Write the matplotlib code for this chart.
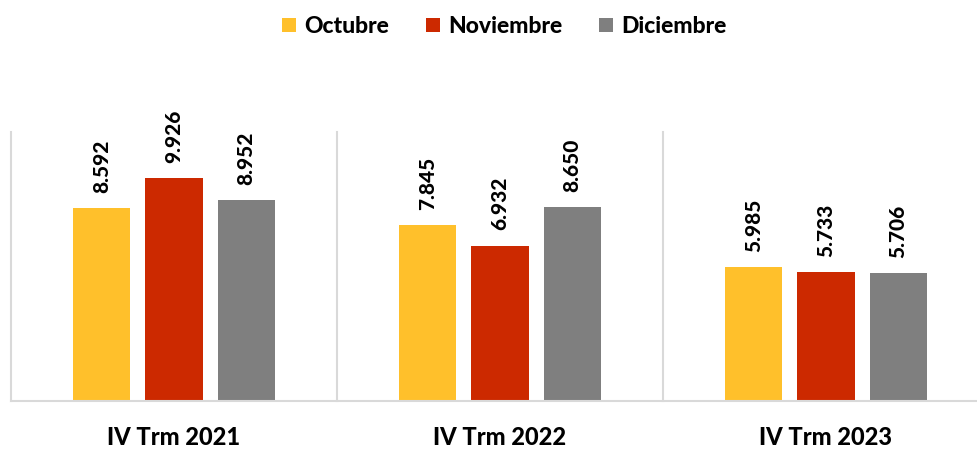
import numpy as np
import matplotlib.pyplot as plt

# Data
categories = ["IV Trm 2021", "IV Trm 2022", "IV Trm 2023"]
series_names = ["Octubre", "Noviembre", "Diciembre"]
octubre = [8.592, 7.845, 5.985]
noviembre = [9.926, 6.932, 5.733]
diciembre = [8.952, 8.650, 5.706]
colors = ["#FFC02B", "#CC2900", "#7F7F7F"]

plt.rcParams['font.family'] = ['Lato', 'DejaVu Sans']

fig = plt.figure(figsize=(9.77, 4.49), dpi=100)
# plot area: left 11px, baseline at 401px, top of frame at 132px, 326px per group
ax = fig.add_axes([11 / 977, (449 - 401) / 449, 978 / 977, (401 - 132) / 449])

x = np.arange(len(categories))
width = 0.175
offsets = [-0.221, 0, 0.221]

for vals, name, col, off in zip([octubre, noviembre, diciembre], series_names, colors, offsets):
    bars = ax.bar(x + off, vals, width, color=col, label=name, zorder=2)
    for b, v in zip(bars, vals):
        ax.annotate(f"{v:.3f}", (b.get_x() + b.get_width() / 2, v),
                    xytext=(0, 11), textcoords="offset points",
                    rotation=90, ha="center", va="bottom",
                    fontsize=15, fontweight="black",
                    annotation_clip=False)

ax.set_xlim(-0.5, 2.5)
ax.set_ylim(0, 12)

# group separators
for sx in [-0.5, 0.5, 1.5, 2.5]:
    ax.plot([sx, sx], [0, 12], color="#D9D9D9", lw=1.5, zorder=1, clip_on=False)

for s in ["top", "right", "left"]:
    ax.spines[s].set_visible(False)
ax.spines["bottom"].set_color("#D9D9D9")
ax.spines["bottom"].set_linewidth(1.5)

ax.set_yticks([])
ax.set_xticks(x)
ax.set_xticklabels(categories, fontsize=17, fontweight="black")
ax.tick_params(axis="x", length=0, pad=18)

fig.legend(loc="upper center", bbox_to_anchor=(0.516, 1.01), ncol=3, frameon=False,
           prop={"size": 16.5, "weight": "black"}, handlelength=0.62, handleheight=0.62,
           handletextpad=0.35, columnspacing=1.6)

fig.savefig("out.png", dpi=100)
